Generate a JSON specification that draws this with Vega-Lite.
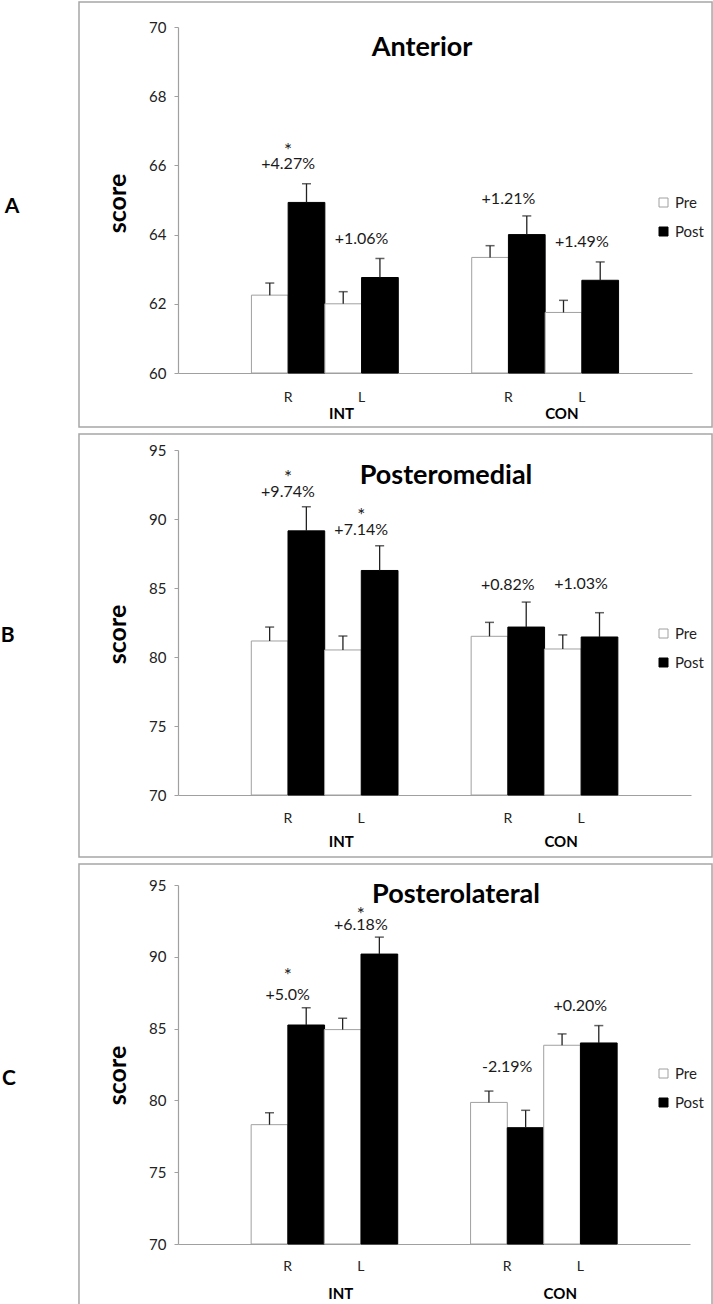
{
  "$schema": "https://vega.github.io/schema/vega-lite/v6.json",
  "background": "white",
  "padding": {"left": 0, "top": 1, "right": 0, "bottom": 0},
  "config": {"view": {"stroke": null}, "font": "Lato", "text": {"font": "Lato"}},
  "spacing": 5,
  "datasets": {
    "bars": [
      {"panel": "A", "cat": "INT R", "phase": "Pre", "score": 62.25, "err": 62.6},
      {"panel": "A", "cat": "INT R", "phase": "Post", "score": 64.93, "err": 65.47},
      {"panel": "A", "cat": "INT L", "phase": "Pre", "score": 62.0, "err": 62.35},
      {"panel": "A", "cat": "INT L", "phase": "Post", "score": 62.76, "err": 63.31},
      {"panel": "A", "cat": "CON R", "phase": "Pre", "score": 63.34, "err": 63.68},
      {"panel": "A", "cat": "CON R", "phase": "Post", "score": 64.0, "err": 64.54},
      {"panel": "A", "cat": "CON L", "phase": "Pre", "score": 61.75, "err": 62.1},
      {"panel": "A", "cat": "CON L", "phase": "Post", "score": 62.68, "err": 63.21},
      {"panel": "B", "cat": "INT R", "phase": "Pre", "score": 81.16, "err": 82.17},
      {"panel": "B", "cat": "INT R", "phase": "Post", "score": 89.14, "err": 90.88},
      {"panel": "B", "cat": "INT L", "phase": "Pre", "score": 80.51, "err": 81.52},
      {"panel": "B", "cat": "INT L", "phase": "Post", "score": 86.27, "err": 88.06},
      {"panel": "B", "cat": "CON R", "phase": "Pre", "score": 81.5, "err": 82.51},
      {"panel": "B", "cat": "CON R", "phase": "Post", "score": 82.17, "err": 83.98},
      {"panel": "B", "cat": "CON L", "phase": "Pre", "score": 80.58, "err": 81.6},
      {"panel": "B", "cat": "CON L", "phase": "Post", "score": 81.45, "err": 83.21},
      {"panel": "C", "cat": "INT R", "phase": "Pre", "score": 78.31, "err": 79.14},
      {"panel": "C", "cat": "INT R", "phase": "Post", "score": 85.25, "err": 86.46},
      {"panel": "C", "cat": "INT L", "phase": "Pre", "score": 84.93, "err": 85.72},
      {"panel": "C", "cat": "INT L", "phase": "Post", "score": 90.19, "err": 91.37},
      {"panel": "C", "cat": "CON R", "phase": "Pre", "score": 79.86, "err": 80.65},
      {"panel": "C", "cat": "CON R", "phase": "Post", "score": 78.1, "err": 79.31},
      {"panel": "C", "cat": "CON L", "phase": "Pre", "score": 83.84, "err": 84.63},
      {"panel": "C", "cat": "CON L", "phase": "Post", "score": 84.0, "err": 85.21}
    ],
    "ann": [
      {"panel": "A", "cat": "INT R", "kind": "star", "text": "*", "at": 66.56},
      {"panel": "A", "cat": "INT R", "kind": "pct", "text": "+4.27%", "at": 66.05},
      {"panel": "A", "cat": "INT L", "kind": "pct", "text": "+1.06%", "at": 63.86},
      {"panel": "A", "cat": "CON R", "kind": "pct", "text": "+1.21%", "at": 65.04},
      {"panel": "A", "cat": "CON L", "kind": "pct", "text": "+1.49%", "at": 63.8},
      {"panel": "B", "cat": "INT R", "kind": "star", "text": "*", "at": 93.34},
      {"panel": "B", "cat": "INT R", "kind": "pct", "text": "+9.74%", "at": 91.99},
      {"panel": "B", "cat": "INT L", "kind": "star", "text": "*", "at": 90.6},
      {"panel": "B", "cat": "INT L", "kind": "pct", "text": "+7.14%", "at": 89.17},
      {"panel": "B", "cat": "CON R", "kind": "pct", "text": "+0.82%", "at": 85.19},
      {"panel": "B", "cat": "CON L", "kind": "pct", "text": "+1.03%", "at": 85.26},
      {"panel": "C", "cat": "INT R", "kind": "star", "text": "*", "at": 88.98},
      {"panel": "C", "cat": "INT R", "kind": "pct", "text": "+5.0%", "at": 87.36},
      {"panel": "C", "cat": "INT L", "kind": "star", "text": "*", "at": 93.26},
      {"panel": "C", "cat": "INT L", "kind": "pct", "text": "+6.18%", "at": 92.22},
      {"panel": "C", "cat": "CON R", "kind": "pct", "text": "-2.19%", "at": 82.36},
      {"panel": "C", "cat": "CON L", "kind": "pct", "text": "+0.20%", "at": 86.57}
    ],
    "grp": [
      {"grp": "INT", "cat": "INT L"},
      {"grp": "CON", "cat": "CON L"}
    ]
  },
  "vconcat": [
    {
      "width": 514, "height": 346,
      "title": {"text": "Anterior", "offset": -61, "dx": -13, "fontSize": 27, "font": "Lato", "fontWeight": "bold", "color": "#000"},
      "layer": [
        {
          "data": {"values": [{}]},
          "layer": [
            {"mark": {"type": "rect", "fill": null, "stroke": "#a6a6a6", "strokeWidth": 1.5},
             "encoding": {
               "x": {"datum": -0.1926, "type": "quantitative", "scale": {"domain": [0, 1], "nice": false, "zero": false}, "axis": null},
               "x2": {"datum": 1.039},
               "y": {"datum": 58.44, "type": "quantitative"},
               "y2": {"datum": 70.72}}},
            {"mark": {"type": "text", "fontSize": 21, "fontWeight": "bold", "font": "Lato", "align": "center", "baseline": "middle", "color": "#000"},
             "encoding": {
               "x": {"datum": -0.323, "type": "quantitative"},
               "y": {"datum": 64.8, "type": "quantitative"},
               "text": {"value": "A"}}}
          ]
        },
        {
          "layer": [
            {"data": {"name": "bars"}, "transform": [{"filter": "datum.panel == 'A'"}],
             "mark": {"type": "bar", "strokeWidth": 1},
             "encoding": {
               "x": {"field": "cat", "type": "nominal", "sort": null,
                     "scale": {"domain": ["INT R", "INT L", " ", "CON R", "CON L"], "paddingInner": 0, "paddingOuter": 1},
                     "axis": {"orient": "bottom", "title": null, "ticks": false, "labelAngle": 0, "labelExpr": "split(datum.value, ' ')[1]", "labelPadding": 17, "labelFontSize": 14, "labelFont": "Lato", "labelColor": "#222", "domainColor": "#a0a0a0", "domainWidth": 1.2}},
               "xOffset": {"field": "phase", "type": "nominal", "sort": null, "scale": {"domain": ["Pre", "Post"], "paddingInner": 0, "paddingOuter": 0}},
               "y": {"field": "score", "type": "quantitative",
                     "scale": {"domain": [60, 70], "nice": false, "zero": false},
                     "axis": {"values": [60, 62, 64, 66, 68, 70], "title": "score", "titleFontSize": 25, "titleFont": "Lato", "titleFontWeight": "bold", "titleColor": "#000", "titlePadding": 18, "titleY": 176, "grid": false, "tickSize": 4, "tickColor": "#a0a0a0", "domainColor": "#a0a0a0", "domainWidth": 1.2, "labelFontSize": 15, "labelFont": "Lato", "labelColor": "#222", "labelPadding": 8}},
               "y2": {"datum": 60},
               "fill": {"field": "phase", "type": "nominal", "scale": {"domain": ["Pre", "Post"], "range": ["#ffffff", "#000000"]},
                        "legend": {"title": null, "orient": "none", "legendX": 478, "legendY": 168, "symbolType": "square", "symbolSize": 81, "symbolStrokeColor": "#909090", "symbolStrokeWidth": 1, "labelFontSize": 15, "labelFont": "Lato", "labelColor": "#222", "rowPadding": 13, "labelOffset": 4}},
               "stroke": {"field": "phase", "type": "nominal", "scale": {"domain": ["Pre", "Post"], "range": ["#a0a0a0", "#000000"]}, "legend": null}
             }},
            {"data": {"name": "bars"}, "transform": [{"filter": "datum.panel == 'A'"}],
             "mark": {"type": "rule", "color": "#222", "strokeWidth": 1.3},
             "encoding": {
               "x": {"field": "cat", "type": "nominal"},
               "xOffset": {"field": "phase", "type": "nominal"},
               "y": {"field": "score", "type": "quantitative"},
               "y2": {"field": "err"}}},
            {"data": {"name": "bars"}, "transform": [{"filter": "datum.panel == 'A'"}],
             "mark": {"type": "tick", "orient": "horizontal", "color": "#222", "size": 9, "thickness": 1.5},
             "encoding": {
               "x": {"field": "cat", "type": "nominal"},
               "xOffset": {"field": "phase", "type": "nominal"},
               "y": {"field": "err", "type": "quantitative"}}},
            {"data": {"name": "ann"}, "transform": [{"filter": "datum.panel == 'A' && datum.kind == 'pct'"}],
             "mark": {"type": "text", "fontSize": 16, "font": "Lato", "color": "#1a1a1a", "baseline": "middle"},
             "encoding": {
               "x": {"field": "cat", "type": "nominal"},
               "y": {"field": "at", "type": "quantitative"},
               "text": {"field": "text"}}},
            {"data": {"name": "ann"}, "transform": [{"filter": "datum.panel == 'A' && datum.kind == 'star'"}],
             "mark": {"type": "text", "fontSize": 19, "font": "Lato", "color": "#1a1a1a", "baseline": "middle", "dy": 5},
             "encoding": {
               "x": {"field": "cat", "type": "nominal"},
               "y": {"field": "at", "type": "quantitative"},
               "text": {"field": "text"}}},
            {"data": {"name": "grp"},
             "mark": {"type": "text", "fontSize": 15, "font": "Lato", "fontWeight": "bold", "color": "#000", "baseline": "middle", "dx": -20, "dy": 41},
             "encoding": {
               "x": {"field": "cat", "type": "nominal"},
               "y": {"datum": 60, "type": "quantitative"},
               "text": {"field": "grp"}}}
          ]
        }
      ],
      "resolve": {"scale": {"x": "independent"}}
    },
    {
      "width": 513, "height": 345,
      "title": {"text": "Posteromedial", "offset": -57, "dx": 11.5, "fontSize": 27, "font": "Lato", "fontWeight": "bold", "color": "#000"},
      "layer": [
        {
          "data": {"values": [{}]},
          "layer": [
            {"mark": {"type": "rect", "fill": null, "stroke": "#a6a6a6", "strokeWidth": 1.5},
             "encoding": {
               "x": {"datum": -0.193, "type": "quantitative", "scale": {"domain": [0, 1], "nice": false, "zero": false}, "axis": null},
               "x2": {"datum": 1.041},
               "y": {"datum": 65.51, "type": "quantitative"},
               "y2": {"datum": 96.16}}},
            {"mark": {"type": "text", "fontSize": 21, "fontWeight": "bold", "font": "Lato", "align": "center", "baseline": "middle", "color": "#000"},
             "encoding": {
               "x": {"datum": -0.332, "type": "quantitative"},
               "y": {"datum": 81.52, "type": "quantitative"},
               "text": {"value": "B"}}}
          ]
        },
        {
          "layer": [
            {"data": {"name": "bars"}, "transform": [{"filter": "datum.panel == 'B'"}],
             "mark": {"type": "bar", "strokeWidth": 1},
             "encoding": {
               "x": {"field": "cat", "type": "nominal", "sort": null,
                     "scale": {"domain": ["INT R", "INT L", " ", "CON R", "CON L"], "paddingInner": 0, "paddingOuter": 1},
                     "axis": {"orient": "bottom", "title": null, "ticks": false, "labelAngle": 0, "labelExpr": "split(datum.value, ' ')[1]", "labelPadding": 16, "labelFontSize": 14, "labelFont": "Lato", "labelColor": "#222", "domainColor": "#a0a0a0", "domainWidth": 1.2}},
               "xOffset": {"field": "phase", "type": "nominal", "sort": null, "scale": {"domain": ["Pre", "Post"], "paddingInner": 0, "paddingOuter": 0}},
               "y": {"field": "score", "type": "quantitative",
                     "scale": {"domain": [70, 95], "nice": false, "zero": false},
                     "axis": {"values": [70, 75, 80, 85, 90, 95], "title": "score", "titleFontSize": 25, "titleFont": "Lato", "titleFontWeight": "bold", "titleColor": "#000", "titlePadding": 18, "titleY": 184, "grid": false, "tickSize": 4, "tickColor": "#a0a0a0", "domainColor": "#a0a0a0", "domainWidth": 1.2, "labelFontSize": 15, "labelFont": "Lato", "labelColor": "#222", "labelPadding": 8}},
               "y2": {"datum": 70},
               "fill": {"field": "phase", "type": "nominal", "scale": {"domain": ["Pre", "Post"], "range": ["#ffffff", "#000000"]},
                        "legend": {"title": null, "orient": "none", "legendX": 478, "legendY": 176, "symbolType": "square", "symbolSize": 81, "symbolStrokeColor": "#909090", "symbolStrokeWidth": 1, "labelFontSize": 15, "labelFont": "Lato", "labelColor": "#222", "rowPadding": 13, "labelOffset": 4}},
               "stroke": {"field": "phase", "type": "nominal", "scale": {"domain": ["Pre", "Post"], "range": ["#a0a0a0", "#000000"]}, "legend": null}
             }},
            {"data": {"name": "bars"}, "transform": [{"filter": "datum.panel == 'B'"}],
             "mark": {"type": "rule", "color": "#222", "strokeWidth": 1.3},
             "encoding": {
               "x": {"field": "cat", "type": "nominal"},
               "xOffset": {"field": "phase", "type": "nominal"},
               "y": {"field": "score", "type": "quantitative"},
               "y2": {"field": "err"}}},
            {"data": {"name": "bars"}, "transform": [{"filter": "datum.panel == 'B'"}],
             "mark": {"type": "tick", "orient": "horizontal", "color": "#222", "size": 9, "thickness": 1.5},
             "encoding": {
               "x": {"field": "cat", "type": "nominal"},
               "xOffset": {"field": "phase", "type": "nominal"},
               "y": {"field": "err", "type": "quantitative"}}},
            {"data": {"name": "ann"}, "transform": [{"filter": "datum.panel == 'B' && datum.kind == 'pct'"}],
             "mark": {"type": "text", "fontSize": 16, "font": "Lato", "color": "#1a1a1a", "baseline": "middle"},
             "encoding": {
               "x": {"field": "cat", "type": "nominal"},
               "y": {"field": "at", "type": "quantitative"},
               "text": {"field": "text"}}},
            {"data": {"name": "ann"}, "transform": [{"filter": "datum.panel == 'B' && datum.kind == 'star'"}],
             "mark": {"type": "text", "fontSize": 19, "font": "Lato", "color": "#1a1a1a", "baseline": "middle", "dy": 5},
             "encoding": {
               "x": {"field": "cat", "type": "nominal"},
               "y": {"field": "at", "type": "quantitative"},
               "text": {"field": "text"}}},
            {"data": {"name": "grp"},
             "mark": {"type": "text", "fontSize": 15, "font": "Lato", "fontWeight": "bold", "color": "#000", "baseline": "middle", "dx": -20, "dy": 47},
             "encoding": {
               "x": {"field": "cat", "type": "nominal"},
               "y": {"datum": 70, "type": "quantitative"},
               "text": {"field": "grp"}}}
          ]
        }
      ],
      "resolve": {"scale": {"x": "independent"}}
    },
    {
      "width": 512, "height": 359,
      "title": {"text": "Posterolateral", "offset": -46, "dx": 22, "fontSize": 27, "font": "Lato", "fontWeight": "bold", "color": "#000"},
      "layer": [
        {
          "data": {"values": [{}]},
          "layer": [
            {"mark": {"type": "rect", "fill": null, "stroke": "#a6a6a6", "strokeWidth": 1.5},
             "encoding": {
               "x": {"datum": -0.1934, "type": "quantitative", "scale": {"domain": [0, 1], "nice": false, "zero": false}, "axis": null},
               "x2": {"datum": 1.043},
               "y": {"datum": 65.75, "type": "quantitative"},
               "y2": {"datum": 96.46}}},
            {"mark": {"type": "text", "fontSize": 21, "fontWeight": "bold", "font": "Lato", "align": "center", "baseline": "middle", "color": "#000"},
             "encoding": {
               "x": {"datum": -0.33, "type": "quantitative"},
               "y": {"datum": 81.49, "type": "quantitative"},
               "text": {"value": "C"}}}
          ]
        },
        {
          "layer": [
            {"data": {"name": "bars"}, "transform": [{"filter": "datum.panel == 'C'"}],
             "mark": {"type": "bar", "strokeWidth": 1},
             "encoding": {
               "x": {"field": "cat", "type": "nominal", "sort": null,
                     "scale": {"domain": ["INT R", "INT L", " ", "CON R", "CON L"], "paddingInner": 0, "paddingOuter": 1},
                     "axis": {"orient": "bottom", "title": null, "ticks": false, "labelAngle": 0, "labelExpr": "split(datum.value, ' ')[1]", "labelPadding": 15, "labelFontSize": 14, "labelFont": "Lato", "labelColor": "#222", "domainColor": "#a0a0a0", "domainWidth": 1.2}},
               "xOffset": {"field": "phase", "type": "nominal", "sort": null, "scale": {"domain": ["Pre", "Post"], "paddingInner": 0, "paddingOuter": 0}},
               "y": {"field": "score", "type": "quantitative",
                     "scale": {"domain": [70, 95], "nice": false, "zero": false},
                     "axis": {"values": [70, 75, 80, 85, 90, 95], "title": "score", "titleFontSize": 25, "titleFont": "Lato", "titleFontWeight": "bold", "titleColor": "#000", "titlePadding": 18, "titleY": 190, "grid": false, "tickSize": 4, "tickColor": "#a0a0a0", "domainColor": "#a0a0a0", "domainWidth": 1.2, "labelFontSize": 15, "labelFont": "Lato", "labelColor": "#222", "labelPadding": 8}},
               "y2": {"datum": 70},
               "fill": {"field": "phase", "type": "nominal", "scale": {"domain": ["Pre", "Post"], "range": ["#ffffff", "#000000"]},
                        "legend": {"title": null, "orient": "none", "legendX": 478, "legendY": 181, "symbolType": "square", "symbolSize": 81, "symbolStrokeColor": "#909090", "symbolStrokeWidth": 1, "labelFontSize": 15, "labelFont": "Lato", "labelColor": "#222", "rowPadding": 13, "labelOffset": 4}},
               "stroke": {"field": "phase", "type": "nominal", "scale": {"domain": ["Pre", "Post"], "range": ["#a0a0a0", "#000000"]}, "legend": null}
             }},
            {"data": {"name": "bars"}, "transform": [{"filter": "datum.panel == 'C'"}],
             "mark": {"type": "rule", "color": "#222", "strokeWidth": 1.3},
             "encoding": {
               "x": {"field": "cat", "type": "nominal"},
               "xOffset": {"field": "phase", "type": "nominal"},
               "y": {"field": "score", "type": "quantitative"},
               "y2": {"field": "err"}}},
            {"data": {"name": "bars"}, "transform": [{"filter": "datum.panel == 'C'"}],
             "mark": {"type": "tick", "orient": "horizontal", "color": "#222", "size": 9, "thickness": 1.5},
             "encoding": {
               "x": {"field": "cat", "type": "nominal"},
               "xOffset": {"field": "phase", "type": "nominal"},
               "y": {"field": "err", "type": "quantitative"}}},
            {"data": {"name": "ann"}, "transform": [{"filter": "datum.panel == 'C' && datum.kind == 'pct'"}],
             "mark": {"type": "text", "fontSize": 16, "font": "Lato", "color": "#1a1a1a", "baseline": "middle"},
             "encoding": {
               "x": {"field": "cat", "type": "nominal"},
               "y": {"field": "at", "type": "quantitative"},
               "text": {"field": "text"}}},
            {"data": {"name": "ann"}, "transform": [{"filter": "datum.panel == 'C' && datum.kind == 'star'"}],
             "mark": {"type": "text", "fontSize": 19, "font": "Lato", "color": "#1a1a1a", "baseline": "middle", "dy": 5},
             "encoding": {
               "x": {"field": "cat", "type": "nominal"},
               "y": {"field": "at", "type": "quantitative"},
               "text": {"field": "text"}}},
            {"data": {"name": "grp"},
             "mark": {"type": "text", "fontSize": 15, "font": "Lato", "fontWeight": "bold", "color": "#000", "baseline": "middle", "dx": -20, "dy": 50},
             "encoding": {
               "x": {"field": "cat", "type": "nominal"},
               "y": {"datum": 70, "type": "quantitative"},
               "text": {"field": "grp"}}}
          ]
        }
      ],
      "resolve": {"scale": {"x": "independent"}}
    }
  ],
  "resolve": {"scale": {"fill": "independent", "stroke": "independent"}, "legend": {"fill": "independent"}}
}
